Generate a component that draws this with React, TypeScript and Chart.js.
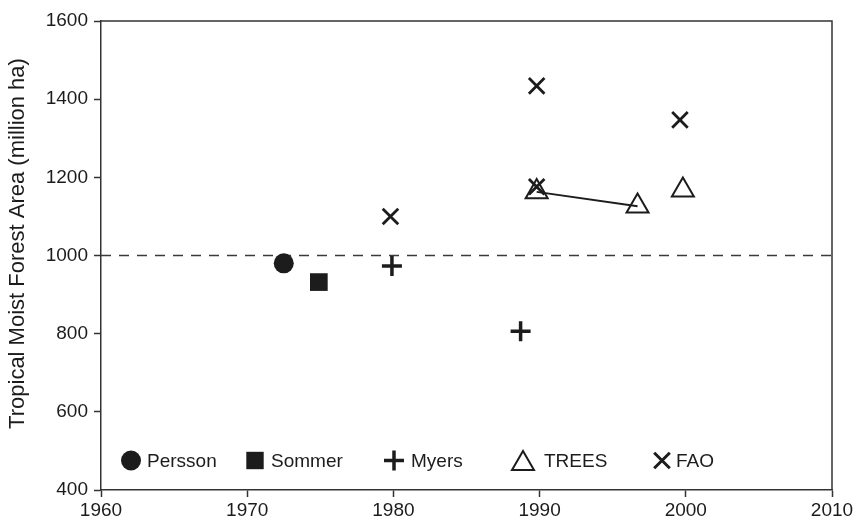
import React, { useEffect, useRef } from 'react';
import { Chart, registerables } from 'chart.js';

Chart.register(...registerables);

// ---- data ----
const xTickValues = [1960, 1970, 1980, 1990, 2000, 2010];
const yTickValues = [400, 600, 800, 1000, 1200, 1400, 1600];

const perssonYears = [1972.5];
const perssonArea = [980];
const sommerYears = [1974.9];
const sommerArea = [932];
const myersYears = [1979.9, 1988.7];
const myersArea = [973, 806];
const treesYears = [1989.8, 1996.7, 1999.8];
const treesArea = [1163, 1126, 1167];
const faoYears = [1979.8, 1989.8, 1989.8, 1999.6];
const faoArea = [1100, 1434, 1176, 1347];
const referenceLevel = 1000;

const seriesNames = ['Persson', 'Sommer', 'Myers', 'TREES', 'FAO'];
const seriesStyles = ['circle', 'rect', 'cross', 'triangle', 'crossRot'];
const yAxisTitle = 'Tropical Moist Forest Area (million ha)';

// ---- style ----
const INK = '#1c1c1c';
const FONT = '"Liberation Sans", Arial, Helvetica, sans-serif';
const legendMarkerX = [30, 154, 293, 422, 561];
const legendTextGap = [16, 16, 17, 21, 14];

const pts = (xs: number[], ys: number[]) => xs.map((x, i) => ({ x, y: ys[i] }));

function drawMarker(ctx: CanvasRenderingContext2D, style: string, x: number, y: number) {
  ctx.save();
  ctx.fillStyle = INK;
  ctx.strokeStyle = INK;
  ctx.lineCap = 'butt';
  ctx.beginPath();
  if (style === 'circle') {
    ctx.arc(x, y, 10, 0, Math.PI * 2);
    ctx.fill();
  } else if (style === 'rect') {
    ctx.rect(x - 8.7, y - 8.7, 17.4, 17.4);
    ctx.fill();
  } else if (style === 'cross') {
    ctx.lineWidth = 3.5;
    ctx.moveTo(x - 10, y);
    ctx.lineTo(x + 10, y);
    ctx.moveTo(x, y - 10);
    ctx.lineTo(x, y + 10);
    ctx.stroke();
  } else if (style === 'triangle') {
    ctx.lineWidth = 2;
    const hw = 11;
    const h = 19;
    ctx.moveTo(x, y - h / 2);
    ctx.lineTo(x + hw, y + h / 2);
    ctx.lineTo(x - hw, y + h / 2);
    ctx.closePath();
    ctx.stroke();
  } else if (style === 'crossRot') {
    ctx.lineWidth = 3;
    const d = 7.8;
    ctx.moveTo(x - d, y - d);
    ctx.lineTo(x + d, y + d);
    ctx.moveTo(x + d, y - d);
    ctx.lineTo(x - d, y + d);
    ctx.stroke();
  }
  ctx.restore();
}

const framePlugin = {
  id: 'frameAndLegend',
  afterDraw(chart: any) {
    const { ctx, chartArea } = chart;
    const { left, right, top, bottom } = chartArea;
    ctx.save();
    ctx.strokeStyle = '#333';
    ctx.lineWidth = 1.5;
    ctx.beginPath();
    ctx.moveTo(left, top);
    ctx.lineTo(right, top);
    ctx.lineTo(right, bottom);
    ctx.stroke();

    // y-axis title
    ctx.save();
    ctx.translate(18, (top + bottom) / 2 - 12);
    ctx.rotate(-Math.PI / 2);
    ctx.font = `22px ${FONT}`;
    ctx.fillStyle = INK;
    ctx.textAlign = 'center';
    ctx.textBaseline = 'middle';
    ctx.fillText(yAxisTitle, 0, 0);
    ctx.restore();

    // legend inside plot
    const ly = bottom - 29.5;
    ctx.font = `19px ${FONT}`;
    ctx.textBaseline = 'middle';
    ctx.textAlign = 'left';
    seriesNames.forEach((name, i) => {
      const mx = left + legendMarkerX[i];
      drawMarker(ctx, seriesStyles[i], mx, ly);
      ctx.fillStyle = INK;
      ctx.fillText(name, mx + legendTextGap[i], ly + 1);
    });
    ctx.restore();
  },
};

export default function App() {
  const canvasRef = useRef<HTMLCanvasElement | null>(null);

  useEffect(() => {
    const canvas = canvasRef.current;
    if (!canvas) return;
    const xMin = xTickValues[0];
    const xMax = xTickValues[xTickValues.length - 1];
    const yMin = yTickValues[0];
    const yMax = yTickValues[yTickValues.length - 1];

    const chart = new Chart(canvas, {
      type: 'scatter',
      data: {
        datasets: [
          {
            label: 'FAO',
            data: pts(faoYears, faoArea),
            pointStyle: 'crossRot',
            pointRadius: 11,
            pointBorderWidth: 2.8,
            borderColor: INK,
            backgroundColor: INK,
          },
          {
            label: 'TREES',
            data: pts(treesYears, treesArea),
            pointStyle: 'triangle',
            pointRadius: 12.7,
            pointBorderWidth: 2,
            borderColor: INK,
            backgroundColor: 'rgba(255,255,255,0)',
          },
          {
            label: 'Myers',
            data: pts(myersYears, myersArea),
            pointStyle: 'cross',
            pointRadius: 10,
            pointBorderWidth: 3.5,
            borderColor: INK,
            backgroundColor: INK,
          },
          {
            label: 'Sommer',
            data: pts(sommerYears, sommerArea),
            pointStyle: 'rect',
            pointRadius: 12.5,
            pointBorderWidth: 0,
            borderColor: INK,
            backgroundColor: INK,
          },
          {
            label: 'Persson',
            data: pts(perssonYears, perssonArea),
            pointStyle: 'circle',
            pointRadius: 10,
            pointBorderWidth: 0,
            borderColor: INK,
            backgroundColor: INK,
          },
          {
            label: 'TREES trend',
            data: pts(treesYears.slice(0, 2), treesArea.slice(0, 2)),
            showLine: true,
            pointRadius: 0,
            borderWidth: 1.8,
            borderColor: INK,
          },
          {
            label: 'reference',
            data: [
              { x: xMin, y: referenceLevel },
              { x: xMax, y: referenceLevel },
            ],
            showLine: true,
            pointRadius: 0,
            borderWidth: 1.5,
            borderDash: [10, 8],
            borderColor: '#3a3a3a',
          },
        ],
      },
      options: {
        animation: false,
        responsive: false,
        maintainAspectRatio: false,
        layout: { padding: { top: 21, right: 25, left: 0, bottom: 0 } },
        plugins: {
          legend: { display: false },
          tooltip: { enabled: false },
        },
        scales: {
          x: {
            type: 'linear',
            min: xMin,
            max: xMax,
            afterBuildTicks: (s: any) => {
              s.ticks = xTickValues.map((v) => ({ value: v }));
            },
            ticks: {
              callback: (v: any) => String(v),
              font: { family: FONT, size: 19 },
              color: INK,
              padding: 2,
              maxRotation: 0,
            },
            grid: {
              drawOnChartArea: false,
              drawTicks: true,
              tickLength: 7,
              tickColor: '#333',
              tickWidth: 1.5,
            },
            border: { display: true, color: '#333', width: 1.5 },
            afterFit: (s: any) => {
              s.height = 32;
            },
          },
          y: {
            type: 'linear',
            min: yMin,
            max: yMax,
            afterBuildTicks: (s: any) => {
              s.ticks = yTickValues.map((v) => ({ value: v }));
            },
            ticks: {
              callback: (v: any) => String(v),
              font: { family: FONT, size: 19 },
              color: INK,
              padding: 6,
            },
            grid: {
              drawOnChartArea: false,
              drawTicks: true,
              tickLength: 7,
              tickColor: '#333',
              tickWidth: 1.5,
            },
            border: { display: true, color: '#333', width: 1.5 },
            title: { display: false },
            afterFit: (s: any) => {
              s.width = 101;
            },
          },
        },
      },
      plugins: [framePlugin],
    } as any);

    return () => {
      chart.destroy();
    };
  }, []);

  return (
    <div style={{ position: 'fixed', left: 0, top: 0, width: 857, height: 522, background: '#fff' }}>
      <canvas ref={canvasRef} width={857} height={522} style={{ display: 'block' }} />
    </div>
  );
}
